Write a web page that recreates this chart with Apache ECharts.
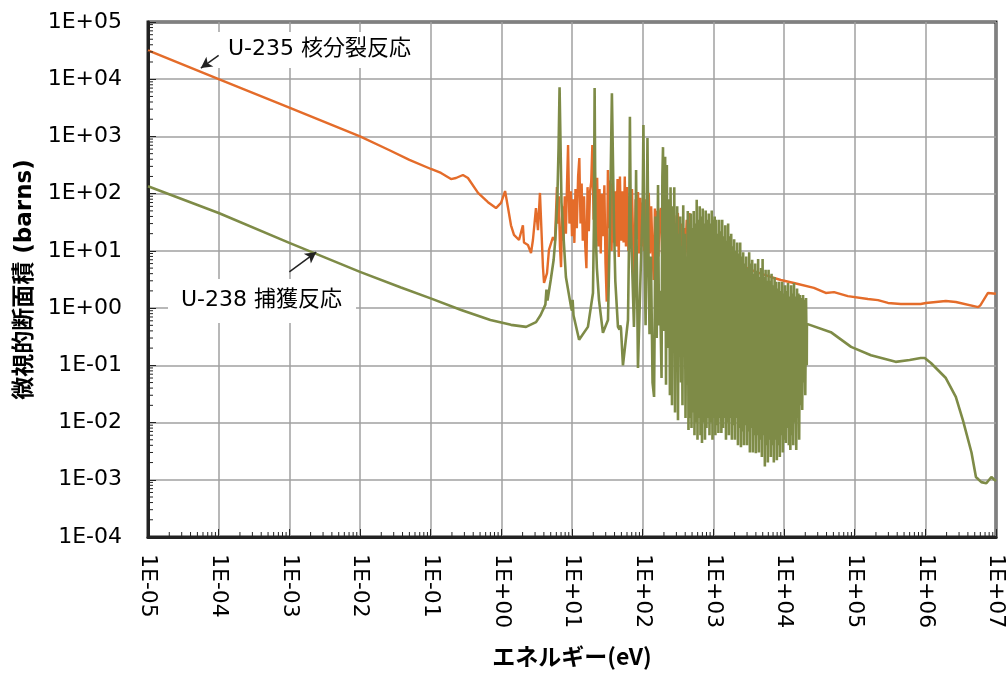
<!DOCTYPE html>
<html>
<head>
<meta charset="utf-8">
<script src="https://cdn.jsdelivr.net/npm/echarts@6/dist/echarts.min.js"></script>
<style>
html,body{margin:0;padding:0;background:#fff;}
#main{width:1008px;height:673px;}
</style>
</head>
<body>
<div id="main"></div>
<script>
// U-235 核分裂断面積 [エネルギー(eV), 断面積(barns)]
var u235 = [
    [1e-5,3.2e4],[1e-4,1.0e4],[1e-3,3.2e3],[1e-2,1.0e3],[0.0253,585],[0.05,390],[0.101,270],[0.14,230],
    [0.194,180],[0.228,188],[0.286,212],[0.337,188],[0.468,103],[0.647,71],[0.84,56],[0.99,69],[1.13,111],
    [1.24,58],[1.37,28],[1.51,19],[1.78,15.5],[2.02,28],[2.09,14],[2.38,12.7],[2.63,9.2],[2.8,15.5],[3.09,56],
    [3.3,23],[3.52,103],[3.88,5.2],[4.02,2.75],[4.43,4.1],[4.72,10.4],[5.38,17.5],[5.74,15],[6.12,131],
    [6.3,30],[6.5,90],[6.75,12],[7.0,5.2],[7.3,60],[7.6,15],[7.9,90],[8.2,20],[8.5,150],[8.8,710],[9.2,30],
    [9.6,110],[10.0,18],[10.4,80],[10.8,13.8],[11.2,120],[11.7,25],[12.2,200],[12.7,420],[13.2,30],[13.7,150],
    [14.2,15],[14.8,90],[15.4,12],[16.0,5],[16.6,130],[17.3,22],[18.0,110],[18.7,160],[19.4,710],[20.2,35],
    [21.0,280],[21.8,15],[22.7,190],[23.6,12],[24.5,120],[25.5,9],[26.5,100],[27.6,18],[28.7,140],[29.8,6],
    [31.0,1.3],[32.2,260],[33.5,25],[34.9,170],[36.3,10],[37.7,150],[39.2,14],[40.8,110],[42.4,12],[44.1,180],
    [45.9,7.8],[47.7,200],[49.6,15],[51.6,110],[53.7,14],[55.8,200],[58.0,12],[60.4,130],[62.8,10],[65.3,90],
    [67.9,11],[70.6,120],[73.4,14],[76.4,3.5],[79.4,80],[82.6,16],[85.9,107],[89.3,9],[92.9,85],[96.6,12],
    [100.5,70],[104.5,10],[108.7,80],[113,8],[117.5,95],[122,103],[127,9],[132,60],[137,12],[143,3.1],
    [149,55],[155,10],[161,50],[167,8],[174,45],[181,56],[188,9],[196,45],[204,10],[212,35],[220,8],[229,40],
    [238,9],[248,4.7],[258,35],[268,10],[279,30],[290,9],[302,40],[315,46],[328,8],[342,2.3],[356,30],
    [370,10],[385,25],[400,8],[420,35],[440,9],[460,46],[480,10],[505,20],[530,5.5],[555,25],[580,9],
    [610,20],[640,10],[680,15.5],[715,8],[750,13],[790,8],[830,7.8],[870,12],[915,8],[960,11],[1000,11.7],
    [1050,7.5],[1100,10],[1160,7.5],[1220,9.5],[1300,6.9],[1370,9],[1440,6.8],[1520,8.5],[1600,6.5],
    [1700,7.5],[1800,6.3],[1900,6.8],[2000,6.3],[2450,5.6],[4000,4.3],[6500,3.5],[9000,3.1],[1.38e4,2.75],
    [2.65e4,2.25],[3.9e4,1.84],[5.1e4,1.9],[8.0e4,1.62],[1.54e5,1.44],[2.14e5,1.38],[2.96e5,1.23],
    [4.5e5,1.18],[8.6e5,1.18],[1.02e6,1.23],[1.95e6,1.33],[2.7e6,1.28],[5.6e6,1.04],[6.0e6,1.12],
    [7.7e6,1.84],[1e7,1.78]
];

// U-238 捕獲断面積 [エネルギー(eV), 断面積(barns)]
var u238 = [
    [1e-5,135],[1e-4,46],[1e-3,13.8],[1e-2,4.3],[0.038,2.3],[0.1,1.48],[0.27,0.93],[0.7,0.62],[1.37,0.51],
    [2.24,0.47],[3.1,0.57],[3.6,0.76],[4.2,1.15],[4.35,2.1],[4.5,1.35],[5.0,3.1],[5.5,7],[5.8,15.5],[6.2,80],
    [6.45,600],[6.67,7200],[6.9,600],[7.1,70],[7.45,26],[8.2,3.5],[9.7,1.04],[10.0,0.9],[10.2,1.4],[10.5,0.75],
    [12.6,0.28],[16.8,0.47],[19.8,1.84],[20.4,26],[20.9,7000],[21.5,26],[22.5,5],[24.1,1.38],[27.4,0.37],
    [32.3,0.62],[34.4,26],[36.7,5700],[39.3,26],[41,3],[44.7,0.47],[47,0.42],[48,0.5],[49.3,0.45],[52.6,0.1],
    [62,0.62],[64.5,26],[66,2200],[68,26],[70.6,6.9],[75.3,0.47],[79,8],[80.7,260],[82.5,8],[85.8,0.09],
    [94.6,6.9],[100,60],[102.5,1590],[105,30],[110,0.5],[114,20],[116.9,940],[120,20],[125,0.35],
    [131,8],[138,0.05],[145,0.028],[152,40],[158,0.3],[165,141],[170,0.5],[176,2],[185,0.06],[190,200],
    [194,650],[200,0.4],[208,440],[214,0.046],[220,316],[225,0.2],[236,80],[243,0.03],[248,130],[255,0.8],
    [260,0.02],[267,60],[273,0.2],[280,130],[287,0.015],[294,30],[301,0.3],[308,60],[316,0.011],[325,20],
    [332,0.2],[340,40],[349,0.05],[357,12],[366,0.02],[375,63],[385,0.15],[395,20],[404,0.012],[414,8],
    [424,0.05],[435,50],[445,0.0074],[456,30],[468,0.012],[480,45],[491,0.008],[503,25],[516,0.015],[528,50],
    [541,0.006],[555,30],[568,0.01],[582,78],[597,0.005],[612,35],[627,0.012],[642,60],[658,0.006],[674,40],
    [691,0.0044],[708,55],[726,0.01],[744,30],[762,0.005],[780,51],[800,0.008],[820,35],[840,0.012],[861,45],
    [882,0.006],[904,30],[926,0.01],[950,51],[973,0.005],[997,35],[1020,0.012],[1045,40],[1070,0.006],
    [1098,35],[1125,0.009],[1152,20],[1180,0.0066],[1210,35],[1240,0.012],[1270,22],[1300,0.0066],[1335,35],
    [1370,0.008],[1405,18],[1440,0.012],[1475,28],[1510,0.005],[1545,15],[1580,0.01],[1620,30],[1660,0.006],
    [1700,18],[1745,0.012],[1790,20],[1830,0.005],[1875,12],[1920,0.009],[1970,16],[2020,0.005],[2070,10],
    [2120,0.012],[2175,14],[2230,0.004],[2285,9],[2340,0.008],[2400,14],[2460,0.0037],[2520,8],[2580,0.007],
    [2645,9.5],[2710,0.004],[2775,6],[2840,0.009],[2915,8],[2990,0.004],[3065,5],[3140,0.007],[3215,9.5],
    [3290,0.003],[3375,6],[3460,0.008],[3545,7],[3630,0.003],[3720,4],[3810,0.006],[3905,6],[4000,0.0029],
    [4100,4.5],[4200,0.006],[4305,7.2],[4410,0.003],[4520,3.5],[4630,0.005],[4745,5],[4860,0.0025],[4980,7.2],
    [5100,0.006],[5230,3.5],[5360,0.0017],[5490,4.7],[5630,0.004],[5770,3],[5910,0.002],[6050,4.7],
    [6200,0.005],[6350,3],[6510,0.0025],[6670,4],[6840,0.004],[7010,2.5],[7180,0.002],[7360,3.5],
    [7540,0.005],[7730,2.9],[7920,0.0022],[8120,2.2],[8310,0.004],[8520,2.9],[8730,0.0025],[8950,2],
    [9170,0.006],[9400,2.9],[9620,0.003],[9860,1.8],[10100,0.005],[10350,2.5],[10600,0.0044],[10850,2],
    [11100,0.008],[11400,2.75],[11700,0.004],[12000,1.6],[12300,0.0033],[12600,2.5],[12900,0.006],[13200,1.8],
    [13500,0.004],[13850,2.75],[14200,0.01],[14550,1.6],[14900,0.0033],[15300,2.2],[15700,0.012],[16000,1.8],
    [16400,0.005],[16800,1.7],[17300,0.02],[17700,1.5],[18100,0.0166],[18600,1.7],[19000,0.05],[19500,1.4],
    [20000,0.03],[20500,1.5],[21000,0.1],[21100,0.53],
    [4.6e4,0.38],[8.9e4,0.21],[1.7e5,0.15],[3.8e5,0.115],[6.0e5,0.124],[8.6e5,0.134],[9.8e5,0.134],
    [1.2e6,0.11],[1.95e6,0.06],[2.7e6,0.028],[3.4e6,0.011],[4.5e6,0.003],[5.2e6,0.00112],[6.2e6,0.00091],
    [7.3e6,0.00087],[8.6e6,0.00112],[9.5e6,0.001],[1e7,0.00095]
];

// 目盛(10のべき乗)と補助目盛
var xTicks = [1e-5,1e-4,1e-3,1e-2,1e-1,1e0,1e1,1e2,1e3,1e4,1e5,1e6,1e7];
var yTicks = [1e-4,1e-3,1e-2,1e-1,1e0,1e1,1e2,1e3,1e4,1e5];
var minorSteps = [2,3,4,5,6,7,8,9];

// 注記の矢印 [始点, 終点]
var arrow235 = [[1e-4,2.6e4],[5.6e-5,1.57e4]];
var arrow238 = [[1.0e-3,4.3],[2.4e-3,9.5]];

var chart = echarts.init(document.getElementById('main'));

function expLabel(v){
    var e = Math.round(Math.log(v) / Math.LN10);
    var a = Math.abs(e);
    return '1E' + (e < 0 ? '-' : '+') + (a < 10 ? '0' : '') + a;
}

//補助目盛の位置
function minorList(ticks, fixed, isX){
    var list = [];
    for (var i = 0; i < ticks.length - 1; i++) {
        for (var j = 0; j < minorSteps.length; j++) {
            var v = minorSteps[j] * ticks[i];
            list.push(isX ? [v, fixed] : [fixed, v]);
        }
    }
    return list;
}

var axisColor = '#222';
var gridColor = '#a0a0a0';
var labelFont = '"DejaVu Sans", sans-serif';
var cjkFont = '"Noto Sans CJK JP", sans-serif';
var mixFont = '"DejaVu Sans", "Noto Sans CJK JP", sans-serif';

var option = {
    animation: false,
    grid: {
        left: 148,
        right: 12,
        top: 22,
        bottom: 136,
        show: true,
        borderColor: axisColor,
        borderWidth: 3
    },
    xAxis: {
        type: 'log',
        logBase: 10,
        min: xTicks[0],
        max: xTicks[xTicks.length - 1],
        splitNumber: 12,
        name: 'エネルギー(eV)',
        nameLocation: 'middle',
        nameGap: 108,
        nameTextStyle: {
            fontFamily: cjkFont,
            fontWeight: 'bold',
            fontSize: 23,
            color: '#000'
        },
        axisLine: { lineStyle: { color: axisColor, width: 3 } },
        axisTick: { inside: true, length: 8, customValues: xTicks, lineStyle: { color: axisColor, width: 1 } },
        splitLine: { show: true, lineStyle: { color: gridColor, width: 1.5 } },
        axisLabel: {
            rotate: -90,
            margin: 17,
            customValues: xTicks,
            fontFamily: labelFont,
            fontSize: 22,
            color: '#000',
            formatter: expLabel
        }
    },
    yAxis: {
        type: 'log',
        logBase: 10,
        min: yTicks[0],
        max: yTicks[yTicks.length - 1],
        splitNumber: 9,
        name: '微視的断面積 (barns)',
        nameLocation: 'middle',
        nameGap: 107,
        nameTextStyle: {
            fontFamily: mixFont,
            fontWeight: 'bold',
            fontSize: 23,
            color: '#000'
        },
        axisLine: { lineStyle: { color: axisColor, width: 3 } },
        axisTick: { inside: true, length: 8, customValues: yTicks, lineStyle: { color: axisColor, width: 1 } },
        splitLine: { show: true, lineStyle: { color: gridColor, width: 1.5 } },
        axisLabel: {
            margin: 26,
            customValues: yTicks,
            fontFamily: labelFont,
            fontSize: 22,
            color: '#000',
            formatter: expLabel
        }
    },
    graphic: [
        {
            type: 'text',
            z: 1,
            left: 216,
            top: 32,
            style: {
                text: 'U-235 核分裂反応',
                fontFamily: mixFont,
                fontSize: 22,
                fill: '#000',
                backgroundColor: '#fff',
                padding: [6, 12, 8, 12]
            }
        },
        {
            type: 'text',
            z: 1,
            left: 168,
            top: 279,
            style: {
                text: 'U-238 捕獲反応',
                fontFamily: mixFont,
                fontSize: 22,
                fill: '#000',
                backgroundColor: '#fff',
                padding: [10, 14, 12, 13]
            }
        }
    ],
    series: [
        {
            name: 'U-235 核分裂反応',
            type: 'line',
            data: u235,
            showSymbol: false,
            symbol: 'none',
            lineStyle: { color: '#e46c2a', width: 2.4 },
            z: 3,
            markLine: {
                silent: true,
                symbol: ['none', 'arrow'],
                symbolSize: [9, 11],
                label: { show: false },
                lineStyle: { color: '#222', width: 1.5, type: 'solid' },
                data: [
                    [{ coord: arrow235[0] }, { coord: arrow235[1] }],
                    [{ coord: arrow238[0] }, { coord: arrow238[1] }]
                ]
            }
        },
        {
            name: 'U-238 捕獲反応',
            type: 'line',
            data: u238,
            showSymbol: false,
            symbol: 'none',
            lineStyle: { color: '#7e8b47', width: 2.6 },
            z: 4
        },
        {
            type: 'custom',
            data: minorList(xTicks, yTicks[0], true),
            z: 6,
            silent: true,
            renderItem: function(params, api){
                var p = api.coord([api.value(0), api.value(1)]);
                return {
                    type: 'line',
                    shape: { x1: p[0], y1: p[1], x2: p[0], y2: p[1] - 5 },
                    style: { stroke: axisColor, lineWidth: 1 }
                };
            }
        },
        {
            type: 'custom',
            data: minorList(yTicks, xTicks[0], false),
            z: 6,
            silent: true,
            renderItem: function(params, api){
                var p = api.coord([api.value(0), api.value(1)]);
                return {
                    type: 'line',
                    shape: { x1: p[0], y1: p[1], x2: p[0] + 5, y2: p[1] },
                    style: { stroke: axisColor, lineWidth: 1 }
                };
            }
        }
    ]
};

chart.setOption(option);
</script>
</body>
</html>
